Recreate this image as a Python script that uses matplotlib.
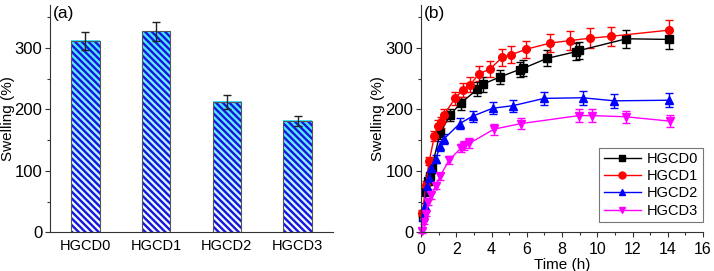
import numpy as np
import matplotlib
matplotlib.use("Agg")
import matplotlib.pyplot as plt
from matplotlib.ticker import MultipleLocator
from matplotlib.colors import LinearSegmentedColormap
from matplotlib.lines import Line2D

plt.rcParams['font.family'] = ['Liberation Sans', 'DejaVu Sans']
plt.rcParams['hatch.linewidth'] = 1.7

# ---- panel (a) data ----
categories = ["HGCD0", "HGCD1", "HGCD2", "HGCD3"]
bar_values = [311, 327, 212, 181]
bar_errors = [15, 16, 11, 8]

# ---- panel (b) data ----
t0 = [0.13, 0.28, 0.42, 0.51, 0.6, 1.08, 1.65, 2.25, 3.2, 3.5, 4.49, 5.59, 5.81, 7.14, 8.79, 8.99, 11.65, 14.05]
y0 = [25, 66, 83, 91, 104, 161, 191, 210, 233, 241, 253, 265, 267, 283, 294, 296, 315, 314]
e0 = [5, 6, 6, 7, 7, 9, 10, 11, 11, 12, 12, 12, 13, 13, 14, 14, 15, 15]

t1 = [0.08, 0.27, 0.47, 0.76, 0.98, 1.12, 1.3, 1.93, 2.37, 2.78, 3.3, 3.92, 4.62, 5.11, 5.97, 7.33, 8.43, 9.6, 10.78, 14.05]
y1 = [31, 77, 116, 157, 173, 179, 191, 218, 232, 240, 258, 266, 285, 289, 298, 308, 312, 316, 319, 329]
e1 = [5, 6, 7, 8, 9, 9, 10, 11, 11, 12, 12, 13, 14, 14, 14, 15, 15, 16, 16, 16]

t2 = [0.1, 0.2, 0.33, 0.45, 0.57, 0.83, 1.08, 1.3, 2.2, 2.93, 4.07, 5.2, 6.99, 9.17, 10.97, 14.05]
y2 = [25, 43, 75, 88, 104, 119, 140, 152, 177, 189, 202, 206, 218, 219, 214, 215]
e2 = [4, 5, 6, 6, 7, 7, 8, 8, 9, 9, 10, 10, 11, 11, 11, 11]

t3 = [0.05, 0.15, 0.27, 0.42, 0.55, 0.85, 1.08, 1.6, 2.27, 2.44, 2.75, 4.15, 5.68, 8.98, 9.7, 11.65, 14.1]
y3 = [2, 17, 30, 50, 60, 76, 91, 118, 137, 141, 145, 168, 177, 190, 190, 188, 181]
e3 = [3, 4, 4, 5, 5, 6, 6, 7, 7, 7, 8, 9, 9, 10, 10, 10, 10]

series_names = ["HGCD0", "HGCD1", "HGCD2", "HGCD3"]
series_colors = ["black", "#ff0000", "#0000ff", "#ff00ff"]
series_markers = ["s", "o", "^", "v"]

fig = plt.figure(figsize=(7.14, 2.71), dpi=100)
axa = fig.add_axes([50/714, 1-232.3/271, 283/714, 227.3/271])
axb = fig.add_axes([421/714, 1-232.3/271, 282/714, 227.3/271])

for ax in (axa, axb):
    ax.spines['top'].set_visible(False)
    ax.spines['right'].set_visible(False)
    ax.spines['left'].set_color('#333333')
    ax.spines['bottom'].set_color('#333333')
    ax.tick_params(axis='both', which='both', direction='out', colors='#333333', labelcolor='black')
    ax.tick_params(axis='y', labelsize=12, pad=2)
    ax.tick_params(axis='x', labelsize=11.5)
    ax.tick_params(which='major', length=3.5, width=0.8)
    ax.tick_params(which='minor', length=2, width=0.8)
    ax.set_ylim(0, 370)
    ax.yaxis.set_major_locator(MultipleLocator(100))
    ax.yaxis.set_minor_locator(MultipleLocator(50))
    ax.set_ylabel("Swelling (%)", fontsize=11)
axa.yaxis.set_label_coords(-0.125, 0.5)
axb.yaxis.set_label_coords(-0.126, 0.5)

# ---- panel (a) ----
x = np.arange(len(categories))
width = 0.4
cmap = LinearSegmentedColormap.from_list("cw", ["#ffffff", "#a8f4ff", "#40e6ff"])
grad = np.linspace(1, 0, 256).reshape(-1, 1)
for xi, v in zip(x, bar_values):
    axa.imshow(grad, cmap=cmap, extent=[xi - width/2, xi + width/2, 0, v],
               aspect='auto', zorder=1, vmin=0, vmax=1, interpolation='bilinear')
axa.bar(x, bar_values, width=width, facecolor='none', edgecolor='#1515dd',
        hatch='\\\\\\\\\\', linewidth=0, zorder=2)
axa.bar(x, bar_values, width=width, facecolor='none', edgecolor='#555555',
        linewidth=0.8, zorder=3)
axa.errorbar(x, bar_values, yerr=bar_errors, fmt='none', ecolor='#222222',
             elinewidth=1.0, capsize=3, capthick=1.0, zorder=4)
axa.set_xlim(-0.5, 3.5)
axa.set_ylim(0, 370)
axa.set_xticks(x)
axa.set_xticklabels(categories, fontsize=10.5)
axa.tick_params(axis='x', length=0, pad=5)
axa.text(0.01, 0.995, "(a)", transform=axa.transAxes, fontsize=12.5, va='top', ha='left')

# ---- panel (b) ----
ts = [t0, t1, t2, t3]
ys = [y0, y1, y2, y3]
es = [e0, e1, e2, e3]
for t, y, e, name, c, m in zip(ts, ys, es, series_names, series_colors, series_markers):
    axb.errorbar(t, y, yerr=e, color=c, marker=m, markersize=5.5, linewidth=1.0,
                 ecolor=c, elinewidth=1.0, capsize=3, capthick=1.0, label=name,
                 clip_on=False)
axb.set_xlim(0, 16)
axb.xaxis.set_major_locator(MultipleLocator(2))
axb.xaxis.set_minor_locator(MultipleLocator(1))
axb.set_xlabel("Time (h)", fontsize=11, labelpad=1)
axb.text(0.01, 0.995, "(b)", transform=axb.transAxes, fontsize=12.5, va='top', ha='left')

hl = [Line2D([0], [0], color=c, marker=m, markersize=5, linewidth=1.0)
      for c, m in zip(series_colors, series_markers)]
leg = axb.legend(hl, series_names, loc='lower right', bbox_to_anchor=(1.0, 0.045),
                 fontsize=10.5, frameon=True, fancybox=False, edgecolor='#555555',
                 handlelength=2.6, handletextpad=0.4, labelspacing=0.22,
                 borderpad=0.3, borderaxespad=0)
leg.get_frame().set_linewidth(0.8)

fig.savefig("out.png", dpi=100)
